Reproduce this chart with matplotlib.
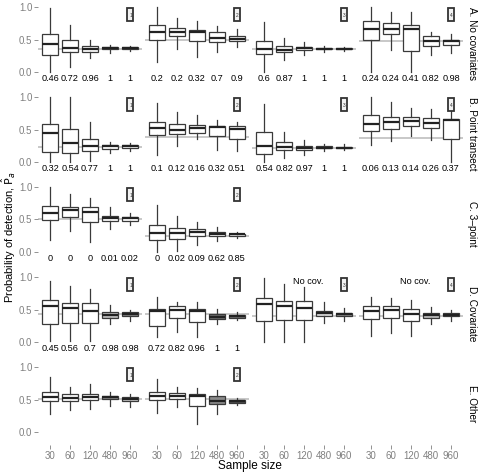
import matplotlib
matplotlib.use("Agg")
import matplotlib.pyplot as plt
from matplotlib.patches import Rectangle

plt.rcParams['font.family'] = ['Liberation Sans', 'DejaVu Sans']

sample_sizes = ["30", "60", "120", "480", "960"]
row_labels = ["A. No covariates", "B. Point transect", "C. 3\u2013point", "D. Covariate", "E. Other"]

# box stats per panel: (whisker low, q1, median, q3, whisker high)
A1 = [(0.00, 0.26, 0.43, 0.58, 0.98), (0.08, 0.31, 0.37, 0.49, 0.72), (0.21, 0.31, 0.35, 0.40, 0.49),
      (0.30, 0.35, 0.37, 0.38, 0.42), (0.33, 0.36, 0.37, 0.38, 0.40)]
A2 = [(0.16, 0.50, 0.62, 0.73, 1.00), (0.36, 0.56, 0.61, 0.67, 0.83), (0.23, 0.48, 0.61, 0.65, 0.78),
      (0.31, 0.46, 0.53, 0.61, 0.71), (0.39, 0.47, 0.51, 0.56, 0.66)]
A3 = [(0.00, 0.28, 0.36, 0.48, 0.77), (0.19, 0.31, 0.34, 0.40, 0.53), (0.26, 0.34, 0.37, 0.39, 0.46),
      (0.31, 0.35, 0.36, 0.37, 0.40), (0.33, 0.35, 0.36, 0.37, 0.38)]
A4 = [(0.00, 0.49, 0.66, 0.79, 1.00), (0.34, 0.58, 0.66, 0.75, 0.92), (0.00, 0.33, 0.66, 0.73, 0.92),
      (0.26, 0.40, 0.48, 0.55, 0.61), (0.30, 0.42, 0.47, 0.50, 0.58)]
B1 = [(0.00, 0.16, 0.44, 0.58, 1.00), (0.00, 0.14, 0.29, 0.51, 1.00), (0.02, 0.17, 0.25, 0.35, 0.61),
      (0.14, 0.20, 0.24, 0.26, 0.31), (0.17, 0.22, 0.24, 0.26, 0.30)]
B2 = [(0.11, 0.41, 0.52, 0.62, 0.91), (0.24, 0.43, 0.50, 0.59, 0.77), (0.35, 0.45, 0.52, 0.57, 0.72),
      (0.18, 0.40, 0.54, 0.56, 0.65), (0.17, 0.35, 0.51, 0.55, 0.62)]
B3 = [(0.00, 0.13, 0.24, 0.46, 0.89), (0.06, 0.18, 0.23, 0.31, 0.46), (0.11, 0.19, 0.22, 0.25, 0.34),
      (0.17, 0.21, 0.22, 0.24, 0.28), (0.18, 0.21, 0.22, 0.23, 0.27)]
B4 = [(0.26, 0.47, 0.59, 0.73, 1.00), (0.33, 0.51, 0.61, 0.70, 0.93), (0.40, 0.55, 0.63, 0.70, 0.83),
      (0.34, 0.52, 0.60, 0.67, 0.82), (0.00, 0.36, 0.64, 0.66, 0.86)]
C1 = [(0.18, 0.49, 0.60, 0.71, 1.00), (0.33, 0.54, 0.64, 0.70, 0.89), (0.15, 0.46, 0.62, 0.70, 0.83),
      (0.35, 0.47, 0.52, 0.56, 0.69), (0.41, 0.48, 0.52, 0.54, 0.60)]
C2 = [(0.00, 0.19, 0.29, 0.42, 0.72), (0.02, 0.20, 0.29, 0.37, 0.56), (0.11, 0.24, 0.31, 0.35, 0.46),
      (0.17, 0.24, 0.28, 0.31, 0.38), (0.21, 0.25, 0.27, 0.28, 0.31)]
D1 = [(0.02, 0.28, 0.56, 0.65, 0.94), (0.02, 0.29, 0.53, 0.60, 0.86), (0.02, 0.30, 0.48, 0.60, 0.82),
      (0.28, 0.37, 0.42, 0.46, 0.57), (0.32, 0.40, 0.43, 0.46, 0.49)]
D2 = [(0.08, 0.24, 0.47, 0.51, 0.70), (0.15, 0.37, 0.49, 0.55, 0.62), (0.07, 0.31, 0.47, 0.51, 0.61),
      (0.28, 0.35, 0.39, 0.43, 0.51), (0.34, 0.37, 0.40, 0.42, 0.46)]
D3 = [(0.00, 0.33, 0.58, 0.67, 0.98), (0.00, 0.34, 0.55, 0.63, 0.90), (0.00, 0.34, 0.53, 0.63, 0.85),
      (0.29, 0.40, 0.45, 0.48, 0.62), (0.32, 0.40, 0.43, 0.45, 0.52)]
D4 = [(0.09, 0.36, 0.48, 0.56, 0.70), (0.14, 0.37, 0.49, 0.56, 0.68), (0.09, 0.33, 0.43, 0.51, 0.64),
      (0.27, 0.37, 0.42, 0.44, 0.54), (0.33, 0.40, 0.42, 0.44, 0.50)]
E1 = [(0.28, 0.47, 0.54, 0.62, 0.84), (0.34, 0.48, 0.53, 0.58, 0.69), (0.35, 0.50, 0.54, 0.59, 0.74),
      (0.40, 0.51, 0.54, 0.55, 0.61), (0.39, 0.48, 0.51, 0.54, 0.58)]
E2 = [(0.29, 0.49, 0.56, 0.61, 0.82), (0.39, 0.51, 0.56, 0.60, 0.70), (0.12, 0.40, 0.56, 0.58, 0.68),
      (0.28, 0.43, 0.47, 0.55, 0.64), (0.42, 0.44, 0.47, 0.49, 0.52)]

# true (reference) values per panel
true_vals = {"A1": 0.36, "A2": 0.50, "A3": 0.36, "A4": 0.47,
             "B1": 0.23, "B2": 0.38, "B3": 0.22, "B4": 0.37,
             "C1": 0.50, "C2": 0.25,
             "D1": 0.43, "D2": 0.43, "D3": 0.40, "D4": 0.40,
             "E1": 0.51, "E2": 0.51}

# numbers printed under boxes
A1_n = ["0.46", "0.72", "0.96", "1", "1"]
A2_n = ["0.2", "0.2", "0.32", "0.7", "0.9"]
A3_n = ["0.6", "0.87", "1", "1", "1"]
A4_n = ["0.24", "0.24", "0.41", "0.82", "0.98"]
B1_n = ["0.32", "0.54", "0.77", "1", "1"]
B2_n = ["0.1", "0.12", "0.16", "0.32", "0.51"]
B3_n = ["0.54", "0.82", "0.97", "1", "1"]
B4_n = ["0.06", "0.13", "0.14", "0.26", "0.37"]
C1_n = ["0", "0", "0", "0.01", "0.02"]
C2_n = ["0", "0.02", "0.09", "0.62", "0.85"]
D1_n = ["0.45", "0.56", "0.7", "0.98", "0.98"]
D2_n = ["0.72", "0.82", "0.96", "1", "1"]

panels = {
    "A1": (A1, A1_n), "A2": (A2, A2_n), "A3": (A3, A3_n), "A4": (A4, A4_n),
    "B1": (B1, B1_n), "B2": (B2, B2_n), "B3": (B3, B3_n), "B4": (B4, B4_n),
    "C1": (C1, C1_n), "C2": (C2, C2_n),
    "D1": (D1, D1_n), "D2": (D2, D2_n), "D3": (D3, None), "D4": (D4, None),
    "E1": (E1, None), "E2": (E2, None),
}

fills = {
    "D1": ["white", "white", "white", "#bdbdbd", "#8a8a8a"],
    "D2": ["white", "white", "white", "#6e6e6e", "#6e6e6e"],
    "D3": ["white", "white", "white", "#d9d9d9", "#8a8a8a"],
    "D4": ["white", "white", "white", "#bdbdbd", "#6e6e6e"],
    "E1": ["white", "white", "white", "#8a8a8a", "#d0d0d0"],
    "E2": ["white", "white", "white", "#8a8a8a", "#4d4d4d"],
}

W, H = 481, 474
fig = plt.figure(figsize=(W / 100, H / 100), dpi=100)

col_left = [38, 145, 252, 359]
panel_w = 104
ylim = (-0.2, 1.07)
unit = 65.0
row_top0 = 7 - (ylim[1] - 1.0) * unit
panel_h = (ylim[1] - ylim[0]) * unit
row_step = 90

tick_grey = "#808080"
edge = "#3a3a3a"

rows = "ABCDE"
for ri, r in enumerate(rows):
    top = row_top0 + ri * row_step
    for ci in range(4):
        key = f"{r}{ci + 1}"
        ax = fig.add_axes([col_left[ci] / W, 1 - (top + panel_h) / H, panel_w / W, panel_h / H])
        ax.set_xlim(0.4, 5.6)
        ax.set_ylim(*ylim)
        for s in ax.spines.values():
            s.set_visible(False)
        ax.tick_params(length=3, color=tick_grey, labelcolor=tick_grey, labelsize=7, width=0.6, pad=1)
        if ci == 0:
            ax.set_yticks([0.0, 0.5, 1.0])
            ax.set_yticklabels(["0.0", "0.5", "1.0"])
        else:
            ax.set_yticks([])
        if ri == 4:
            ax.set_xticks(range(1, 6))
            ax.set_xticklabels(sample_sizes)
        else:
            ax.set_xticks([])
        if key not in panels:
            continue
        data, nums = panels[key]
        ax.axhline(true_vals[key], color="#c4c4c4", lw=1.3, zorder=1)
        stats = [dict(whislo=d[0], q1=d[1], med=d[2], q3=d[3], whishi=d[4], fliers=[]) for d in data]
        bp = ax.bxp(stats, positions=range(1, 6), widths=0.78, showcaps=False, patch_artist=True,
                    boxprops=dict(edgecolor=edge, linewidth=0.9),
                    whiskerprops=dict(color=edge, linewidth=0.9),
                    medianprops=dict(color="#222222", linewidth=1.6),
                    manage_ticks=False)
        fc = fills.get(key, ["white"] * 5)
        for p, f in zip(bp["boxes"], fc):
            p.set_facecolor(f)
            p.set_zorder(2)
        if nums is not None:
            for i, t in enumerate(nums):
                ax.text(i + 1, -0.105, t, ha="center", va="center", fontsize=6.6, color="black")
        else:
            if r == "D":
                ax.text(3.2, 0.93, "No cov.", ha="center", va="center", fontsize=6.6, color="black")
        # small key glyph
        ax.add_patch(Rectangle((4.85, 0.79), 0.3, 0.19, facecolor="#f2f2f2", edgecolor="#333333",
                               linewidth=1.3, zorder=3))
        ax.text(5.03, 0.875, str(ci + 1), fontsize=3.5, color="#333333", va="center", ha="center", zorder=4)
    fig.text(467 / W, 1 - (top + panel_h / 2) / H, row_labels[ri], rotation=270,
             ha="left", va="center", fontsize=7.2)

fig.text(9 / W, 0.5, r"Probability of detection, $\hat{\mathrm{P}}_a$", rotation=90, ha="center",
         va="center", fontsize=8)
fig.text(250 / W, 1 - 466 / H, "Sample size", ha="center", va="center", fontsize=8.5)

fig.savefig("out.png", dpi=100)
